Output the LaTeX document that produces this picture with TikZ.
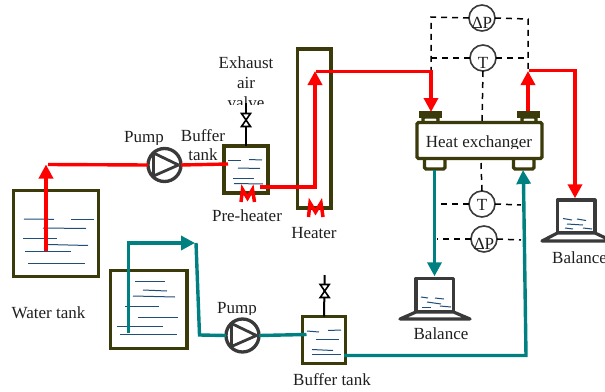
\documentclass[tikz,border=0pt]{standalone}
\usepackage{fontspec}
\setmainfont{Liberation Serif}
\usetikzlibrary{calc,arrows.meta}
\definecolor{tankline}{HTML}{3A3A0A}
\definecolor{pipeteal}{HTML}{008080}
\definecolor{waterblue}{HTML}{1F4E79}
\definecolor{unitgray}{HTML}{3A3A3A}
\def\pumpmark(#1){\draw[line width=2.8, color=unitgray, line join=round] ($(#1)+(-11,-12)$) -- ($(#1)+(14,0)$) -- ($(#1)+(-11,11)$) -- cycle;}
\def\valvemark(#1){\draw[line width=1.6, fill=white] ($(#1)+(-4.5,-6.5)$) -- ($(#1)+(4.5,-6.5)$) -- ($(#1)+(-4.5,6.5)$) -- ($(#1)+(4.5,6.5)$) -- cycle;}
\tikzset{
	tank/.style={draw=tankline, line width=3.3, fill=white, rectangle, inner sep=0, outer sep=0},
	pump/.style={draw=unitgray, line width=3.3, fill=white, circle, inner sep=0, outer sep=0, minimum size=33},
	meter/.style={draw=unitgray, line width=1.6, fill=white, circle, inner sep=0, outer sep=0, minimum size=26},
	caption/.style={font=\fontsize{17}{19}\selectfont, text=black!88, inner sep=0},
	ripple/.style={line width=1, color=waterblue},
	redpipe/.style={line width=3.4, color=red},
	tealpipe/.style={line width=3.4, color=pipeteal},
	tipa/.style={-{Triangle[length=14pt,width=14pt]}},
	signal/.style={line width=1.5, dash pattern=on 6pt off 5pt},
	heatcoil/.style={line width=3.5, color=red},
	mask/.style={fill=white, draw=none},
	scalebody/.style={line width=3.2, color=unitgray, line join=round},
}
\begin{document}
\begin{tikzpicture}[x=1pt, y=-1pt]
		\clip (0, 0) rectangle (605, 391);
		\useasboundingbox (0, 0) rectangle (605, 391);
		
		%%%%% labels %%%%%
		\node[caption] (exhaustlabel) at (246, 63) {Exhaust};
		\node[caption] (airlabel) at (246, 83) {air};
		\node[caption] (valvelabel) at (246, 103) {valve};
		\fill[mask] (225, 105) rectangle (270, 112);
		\node[caption] (pumplabela) at (144, 139) {Pump};
		\fill[mask] (120, 145) rectangle (170, 151);
		\node[caption] (bufferlabel) at (203, 136) {Buffer};
		\node[caption] (tanklabel) at (203, 155) {tank};
		\node[caption] (preheatlabel) at (247, 216) {Pre-heater};
		\node[caption] (heaterlabel) at (314, 233) {Heater};
		\node[caption] (waterlabel) at (48.5, 313) {Water tank};
		\node[caption] (pumplabelb) at (237, 310) {Pump};
		\fill[mask] (215, 315) rectangle (262, 321);
		\node[caption] (bufferlabelb) at (332, 380) {Buffer tank};
		\fill[mask] (285, 386) rectangle (380, 391);
		\node[caption] (balancelabela) at (441, 334) {Balance};
		\node[caption, anchor=west] (balancelabelb) at (552, 258) {Balance};
		
		%%%%% tanks %%%%%
		\node[tank, minimum width=85, minimum height=86] (watertank) at (56, 233.5) {};
		\draw[ripple] (24, 219) -- (54, 219.3);
		\draw[ripple] (71, 219) -- (94, 219);
		\draw[ripple] (43, 228) -- (86, 228.5);
		\draw[ripple] (23, 238) -- (57, 238);
		\draw[ripple] (48, 244.5) -- (88, 245.5);
		\draw[ripple] (25, 251.5) -- (71, 251.5);
		\draw[ripple] (28, 263.5) -- (85, 263.5);
		
		\node[tank, minimum width=76.5, minimum height=78] (feedtank) at (148.7, 309.5) {};
		\draw[ripple] (135, 281) -- (165, 281);
		\draw[ripple] (143, 290) -- (167, 291);
		\draw[ripple] (133, 296) -- (175, 297);
		\draw[ripple] (125, 306) -- (159, 306);
		\draw[ripple] (138, 317) -- (178, 317);
		\draw[ripple] (117, 326) -- (163, 326);
		\draw[ripple] (120, 334.5) -- (177, 334.5);
		
		\node[tank, minimum width=44, minimum height=47] (buffera) at (246, 169.5) {};
		\draw[ripple] (228, 160) -- (241, 160);
		\draw[ripple] (249, 159.5) -- (262, 160);
		\draw[ripple] (238, 168) -- (260, 168.5);
		\draw[ripple] (233, 178) -- (254, 178);
		\draw[ripple] (234, 183.5) -- (263, 184);
		
		\node[tank, minimum width=43.5, minimum height=47] (bufferb) at (324, 340) {};
		\draw[ripple] (307, 331) -- (319, 332);
		\draw[ripple] (328, 330.5) -- (341, 330);
		\draw[ripple] (316, 339) -- (339, 339);
		\draw[ripple] (312, 349.5) -- (333, 350.5);
		\draw[ripple] (312, 354.5) -- (341, 354.5);
		
		\node[tank, minimum width=33.5, minimum height=159] (heater) at (314.3, 128.5) {};
		
		%%%%% heat exchanger %%%%%
		\draw[tank, rounded corners=1.5] (423, 117) rectangle (438, 123);
		\draw[tank, rounded corners=1.5] (522, 117) rectangle (536, 123);
		\draw[tank, rounded corners=1.5] (424.5, 158) rectangle (445, 169);
		\draw[tank, rounded corners=1.5] (513.5, 158) rectangle (534, 169);
		\fill[tankline] (419, 111) rectangle (442, 117.5);
		\fill[tankline] (517, 111) rectangle (539.5, 117.5);
		\node[tank, rounded corners=1.5, minimum width=125, minimum height=36] (exchanger) at (479.5, 140.5) {};
		\node[caption] (exchangerlabel) at (479, 143) {Heat exchanger};
		\fill[mask] (425, 148.5) rectangle (535, 155);
		
		%%%%% signals %%%%%
		\node[meter] (dpa) at (482, 18) {};
		\node[meter] (ta) at (483, 58) {};
		\node[meter] (tb) at (482, 204) {};
		\node[meter] (dpb) at (484, 239) {};
		\node[caption] (dpatext) at (482, 22.5) {ΔP};
		\node[caption] (tatext) at (483, 63) {T};
		\node[caption] (tbtext) at (482, 205) {T};
		\node[caption] (dpbtext) at (484, 244) {ΔP};
		\coordinate (dpaleft) at (431, 17);
		\coordinate (dparight) at (528, 19);
		\coordinate (hxleft) at (431, 98);
		\coordinate (hxright) at (528, 71);
		\draw[signal] (dpa.west) -- (dpaleft) -- (hxleft);
		\draw[signal] (ta.west) -- (431, 58);
		\draw[signal] (dpa.east) -- (dparight) -- (hxright);
		\draw[signal] (ta.east) -- (528, 58);
		\draw[signal] (ta.south) -- (482, 122);
		\draw[signal] (481, 163) -- (tb.north);
		\draw[signal] (tb.west) -- (437, 204);
		\draw[signal] (tb.east) -- (521, 205);
		\draw[signal] (dpb.west) -- (437, 239);
		\draw[signal] (dpb.east) -- (521, 240);
		
		%%%%% balances %%%%%
		\draw[scalebody, fill=white] (416, 278.5) rectangle (453.5, 312);
		\draw[scalebody, fill=white] (416, 312) -- (400, 319) -- (470, 319) -- (453.5, 312) -- cycle;
		\node[inner sep=0] (balancea) at (434.5, 277) {};
		\draw[ripple] (421, 297) -- (428, 298);
		\draw[ripple] (435, 298) -- (444, 299);
		\draw[ripple] (427, 302) -- (441, 304);
		\draw[ripple] (422, 307) -- (431, 307);
		\draw[ripple] (440, 306) -- (451, 307);
		
		\draw[scalebody, fill=white] (557.5, 200) rectangle (595, 233);
		\draw[scalebody, fill=white] (557.5, 233) -- (542, 241) -- (612, 241) -- (595, 233) -- cycle;
		\node[inner sep=0] (balanceb) at (575, 199) {};
		\draw[ripple] (563, 218.5) -- (572, 220);
		\draw[ripple] (577, 219) -- (586, 220.5);
		\draw[ripple] (567, 224) -- (583, 225);
		\draw[ripple] (565, 228) -- (573, 229);
		\draw[ripple] (583, 228) -- (592, 229);
		
		%%%%% pumps and valves %%%%%
		\node[pump] (pumpa) at (164.5, 165) {};
		\pumpmark(pumpa);
		\node[pump] (pumpb) at (242.5, 335.5) {};
		\pumpmark(pumpb);
		
		\node[inner sep=0] (valvea) at (246, 120) {};
		\draw[line width=2] (246, 103) -- (buffera.north);
		\valvemark(valvea);
		\node[inner sep=0] (valveb) at (324.7, 291) {};
		\draw[line width=2] (324.7, 275) -- (bufferb.north);
		\valvemark(valveb);
		
		%%%%% red line %%%%%
		\coordinate (riserfoot) at (46, 251);
		\coordinate (risertop) at (46, 164.5);
		\coordinate (riserstart) at (48, 164.5);
		\coordinate (heaterin) at (260, 187);
		\coordinate (heaterfoot) at (315, 187);
		\coordinate (heatertop) at (315, 71);
		\coordinate (heaterstart) at (316, 71.5);
		\coordinate (hxinbend) at (431, 71.5);
		\coordinate (hxin) at (431, 112);
		\coordinate (hxout) at (528, 111);
		\coordinate (hxtop) at (528, 71);
		\coordinate (hxstart) at (529, 70.5);
		\coordinate (drainbend) at (575, 70.5);
		\draw[redpipe, tipa] (riserfoot) -- (risertop);
		\draw[redpipe] (riserstart) -- (pumpa.west);
		\draw[redpipe] (pumpa.east) -- (228, 164);
		\draw[redpipe, tipa] (heaterin) -- (heaterfoot) -- (heatertop);
		\draw[redpipe, tipa] (heaterstart) -- (hxinbend) -- (hxin);
		\draw[redpipe, tipa] (hxout) -- (hxtop);
		\draw[redpipe, tipa] (hxstart) -- (drainbend) -- (balanceb);
		
		\draw[heatcoil] (241, 202) -- (242.5, 189.5) -- (247.5, 198) -- (252.5, 189.5) -- (254.5, 202);
		\draw[heatcoil] (308.5, 217) -- (310, 203) -- (315.5, 212) -- (321, 203) -- (323, 217);
		
		%%%%% teal line %%%%%
		\coordinate (feedfoot) at (128.5, 332.5);
		\coordinate (feedtop) at (128.5, 243);
		\coordinate (feedtip) at (195, 243);
		\coordinate (feedcorner) at (196, 243);
		\coordinate (feeddrop) at (199.5, 335);
		\coordinate (bufferin) at (306.5, 334.5);
		\coordinate (bufferout) at (344, 355.5);
		\coordinate (hxreturn) at (526, 355.5);
		\coordinate (hxreturnneck) at (523.5, 181);
		\coordinate (hxreturntip) at (523, 170);
		\coordinate (hxdrain) at (434.5, 170);
		\draw[tealpipe, tipa] (feedfoot) -- (feedtop) -- (feedtip);
		\draw[tealpipe] (feedcorner) -- (feeddrop) -- (pumpb.west);
		\draw[tealpipe] (pumpb.east) -- (bufferin);
		\draw[tealpipe] (bufferout) -- (hxreturn) -- (hxreturnneck);
		\draw[tealpipe, tipa] (hxreturnneck) -- (hxreturntip);
		\draw[tealpipe, tipa] (hxdrain) -- (balancea);
\end{tikzpicture}
\end{document}
